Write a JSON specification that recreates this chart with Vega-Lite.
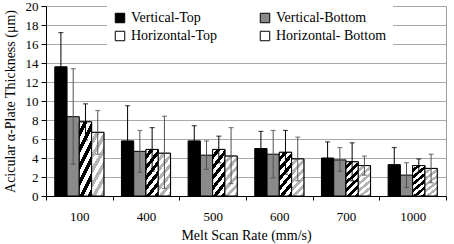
{
  "$schema": "https://vega.github.io/schema/vega-lite/v6.json",
  "autosize": {"type": "none"},
  "width": 400,
  "height": 190,
  "padding": {"left": 46, "top": 6, "right": 8, "bottom": 48},
  "background": "white",
  "config": {
    "view": {"stroke": "#a0a0a0", "strokeWidth": 1},
    "font": "Liberation Serif"
  },
  "data": {
    "values": [
      {"rate": "100", "series": "Vertical-Top", "value": 13.6, "lo": 10.0, "hi": 17.2},
      {"rate": "100", "series": "Vertical-Bottom", "value": 8.35, "lo": 3.35, "hi": 13.4},
      {"rate": "100", "series": "Horizontal-Top", "value": 7.8, "lo": 5.9, "hi": 9.7},
      {"rate": "100", "series": "Horizontal- Bottom", "value": 6.7, "lo": 4.4, "hi": 9.0},
      {"rate": "400", "series": "Vertical-Top", "value": 5.8, "lo": 2.1, "hi": 9.5},
      {"rate": "400", "series": "Vertical-Bottom", "value": 4.7, "lo": 2.5, "hi": 6.9},
      {"rate": "400", "series": "Horizontal-Top", "value": 4.9, "lo": 2.6, "hi": 7.2},
      {"rate": "400", "series": "Horizontal- Bottom", "value": 4.5, "lo": 0.8, "hi": 8.4},
      {"rate": "500", "series": "Vertical-Top", "value": 5.8, "lo": 4.2, "hi": 7.4},
      {"rate": "500", "series": "Vertical-Bottom", "value": 4.3, "lo": 2.8, "hi": 5.8},
      {"rate": "500", "series": "Horizontal-Top", "value": 4.9, "lo": 3.5, "hi": 6.3},
      {"rate": "500", "series": "Horizontal- Bottom", "value": 4.2, "lo": 1.3, "hi": 7.2},
      {"rate": "600", "series": "Vertical-Top", "value": 5.0, "lo": 3.2, "hi": 6.8},
      {"rate": "600", "series": "Vertical-Bottom", "value": 4.4, "lo": 1.9, "hi": 6.9},
      {"rate": "600", "series": "Horizontal-Top", "value": 4.6, "lo": 2.3, "hi": 6.9},
      {"rate": "600", "series": "Horizontal- Bottom", "value": 3.9, "lo": 1.6, "hi": 6.2},
      {"rate": "700", "series": "Vertical-Top", "value": 4.0, "lo": 2.3, "hi": 5.7},
      {"rate": "700", "series": "Vertical-Bottom", "value": 3.8, "lo": 2.6, "hi": 5.1},
      {"rate": "700", "series": "Horizontal-Top", "value": 3.6, "lo": 1.6, "hi": 5.6},
      {"rate": "700", "series": "Horizontal- Bottom", "value": 3.2, "lo": 2.2, "hi": 4.2},
      {"rate": "1000", "series": "Vertical-Top", "value": 3.3, "lo": 1.5, "hi": 5.1},
      {"rate": "1000", "series": "Vertical-Bottom", "value": 2.2, "lo": 0.9, "hi": 3.5},
      {"rate": "1000", "series": "Horizontal-Top", "value": 3.2, "lo": 2.5, "hi": 3.9},
      {"rate": "1000", "series": "Horizontal- Bottom", "value": 2.9, "lo": 1.4, "hi": 4.4}
    ]
  },
  "encoding": {
    "x": {
      "field": "rate", "type": "nominal",
      "scale": {"domain": ["100", "400", "500", "600", "700", "1000"], "paddingInner": 0, "paddingOuter": 0},
      "axis": {
        "title": "Melt Scan Rate (mm/s)",
        "labelAngle": 0, "tickBand": "extent",
        "domainColor": "black", "tickColor": "black", "tickSize": 4,
        "labelFont": "Liberation Serif", "labelFontSize": 13, "labelColor": "black", "labelPadding": 10,
        "titleFont": "Liberation Serif", "titleFontSize": 14, "titleFontWeight": "normal", "titleColor": "black", "titlePadding": 5
      }
    },
    "xOffset": {
      "field": "series", "type": "nominal",
      "scale": {"domain": ["Vertical-Top", "Vertical-Bottom", "Horizontal-Top", "Horizontal- Bottom"], "paddingInner": 0, "paddingOuter": 0.715}
    },
    "y": {
      "field": "value", "type": "quantitative",
      "scale": {"domain": [0, 20], "nice": false},
      "axis": {
        "title": "Acicular α-Plate Thickness (μm)",
        "values": [0, 2, 4, 6, 8, 10, 12, 14, 16, 18, 20],
        "grid": true, "gridColor": "#a8a8a8",
        "domainColor": "black", "tickColor": "black", "tickSize": 5,
        "labelFont": "Liberation Serif", "labelFontSize": 13, "labelColor": "black", "labelPadding": 3,
        "titleFont": "Liberation Serif", "titleFontSize": 14, "titleFontWeight": "normal", "titleColor": "black", "titlePadding": 8
      }
    }
  },
  "layer": [
    {
      "mark": {"type": "bar", "stroke": "black", "strokeWidth": 1, "opacity": 1},
      "encoding": {
        "color": {
          "field": "series", "type": "nominal",
          "scale": {
            "domain": ["Vertical-Top", "Vertical-Bottom", "Horizontal-Top", "Horizontal- Bottom"],
            "range": ["black", "#8a8a8a", "white", "white"]
          },
          "legend": {
            "title": null, "orient": "none", "legendX": 61, "legendY": -1,
            "direction": "horizontal",
            "columns": 2, "columnPadding": 40, "rowPadding": 4,
            "fillColor": "white", "padding": 6,
            "symbolType": "square", "symbolSize": 90, "symbolStrokeColor": "black", "symbolStrokeWidth": 1, "symbolOpacity": 1,
            "labelFont": "Liberation Serif", "labelFontSize": 14, "labelColor": "black", "labelOffset": 4,
            "encode": {
              "symbols": {
                "update": {
                  "fill": {"signal": "datum.label === 'Horizontal-Top' ? {gradient: 'linear', x1: 0, y1: 0, x2: 1, y2: 1, stops: [{offset: 0, color: 'white'}, {offset: 0.5, color: 'white'}, {offset: 0.5, color: 'black'}, {offset: 1, color: 'black'}]} : datum.label === 'Horizontal- Bottom' ? {gradient: 'linear', x1: 0, y1: 0, x2: 1, y2: 1, stops: [{offset: 0, color: 'white'}, {offset: 0.5, color: 'white'}, {offset: 0.5, color: '#b4b4b4'}, {offset: 1, color: '#b4b4b4'}]} : datum.label === 'Vertical-Top' ? 'black' : '#8a8a8a'"},
                  "stroke": {"value": "black"},
                  "strokeWidth": {"value": 1}
                }
              }
            }
          }
        }
      }
    },
    {
      "transform": [{"filter": "datum.series === 'Horizontal-Top'"}],
      "mark": {"type": "bar", "stroke": "black", "strokeWidth": 1, "opacity": 1,
        "fill": {"gradient": "linear", "x1": 0, "y1": 0, "x2": 0.4, "y2": 1.2, "stops": [
          {"offset": 0, "color": "white"}, {"offset": 0.0833, "color": "white"},
          {"offset": 0.0833, "color": "black"}, {"offset": 0.1667, "color": "black"},
          {"offset": 0.1667, "color": "white"}, {"offset": 0.25, "color": "white"},
          {"offset": 0.25, "color": "black"}, {"offset": 0.3333, "color": "black"},
          {"offset": 0.3333, "color": "white"}, {"offset": 0.4167, "color": "white"},
          {"offset": 0.4167, "color": "black"}, {"offset": 0.5, "color": "black"},
          {"offset": 0.5, "color": "white"}, {"offset": 0.5833, "color": "white"},
          {"offset": 0.5833, "color": "black"}, {"offset": 0.6667, "color": "black"},
          {"offset": 0.6667, "color": "white"}, {"offset": 0.75, "color": "white"},
          {"offset": 0.75, "color": "black"}, {"offset": 0.8333, "color": "black"},
          {"offset": 0.8333, "color": "white"}, {"offset": 0.9167, "color": "white"},
          {"offset": 0.9167, "color": "black"}, {"offset": 1, "color": "black"}
        ]}},
      "encoding": {}
    },
    {
      "transform": [{"filter": "datum.series === 'Horizontal- Bottom'"}],
      "mark": {"type": "bar", "stroke": "black", "strokeWidth": 1, "opacity": 1,
        "fill": {"gradient": "linear", "x1": 0, "y1": 0, "x2": 0.4, "y2": 1.2, "stops": [
          {"offset": 0, "color": "white"}, {"offset": 0.0833, "color": "white"},
          {"offset": 0.0833, "color": "#b4b4b4"}, {"offset": 0.1667, "color": "#b4b4b4"},
          {"offset": 0.1667, "color": "white"}, {"offset": 0.25, "color": "white"},
          {"offset": 0.25, "color": "#b4b4b4"}, {"offset": 0.3333, "color": "#b4b4b4"},
          {"offset": 0.3333, "color": "white"}, {"offset": 0.4167, "color": "white"},
          {"offset": 0.4167, "color": "#b4b4b4"}, {"offset": 0.5, "color": "#b4b4b4"},
          {"offset": 0.5, "color": "white"}, {"offset": 0.5833, "color": "white"},
          {"offset": 0.5833, "color": "#b4b4b4"}, {"offset": 0.6667, "color": "#b4b4b4"},
          {"offset": 0.6667, "color": "white"}, {"offset": 0.75, "color": "white"},
          {"offset": 0.75, "color": "#b4b4b4"}, {"offset": 0.8333, "color": "#b4b4b4"},
          {"offset": 0.8333, "color": "white"}, {"offset": 0.9167, "color": "white"},
          {"offset": 0.9167, "color": "#b4b4b4"}, {"offset": 1, "color": "#b4b4b4"}
        ]}},
      "encoding": {}
    },
    {
      "mark": {"type": "rule", "strokeWidth": 1},
      "encoding": {
        "y": {"field": "lo", "type": "quantitative"},
        "y2": {"field": "hi"},
        "color": {"condition": {"test": "datum.series === 'Vertical-Bottom' || datum.series === 'Horizontal- Bottom'", "value": "#505050"}, "value": "black"}
      }
    },
    {
      "mark": {"type": "tick", "size": 5, "thickness": 1.2},
      "encoding": {
        "y": {"field": "hi", "type": "quantitative"},
        "color": {"condition": {"test": "datum.series === 'Vertical-Bottom' || datum.series === 'Horizontal- Bottom'", "value": "#505050"}, "value": "black"}
      }
    },
    {
      "mark": {"type": "tick", "size": 5, "thickness": 1.2},
      "encoding": {
        "y": {"field": "lo", "type": "quantitative"},
        "color": {"condition": {"test": "datum.series === 'Vertical-Bottom' || datum.series === 'Horizontal- Bottom'", "value": "#505050"}, "value": "black"}
      }
    }
  ]
}
